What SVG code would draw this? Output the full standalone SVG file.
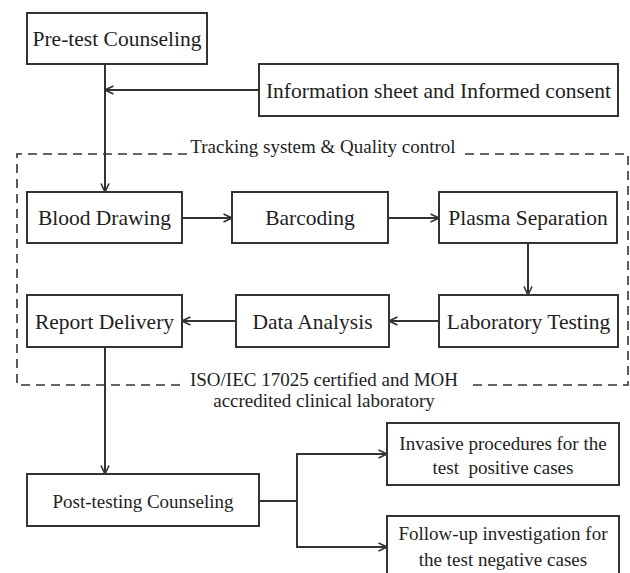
<svg xmlns="http://www.w3.org/2000/svg" width="630" height="573" viewBox="0 0 630 573">
  <style>
    .box { fill: #ffffff; stroke: #333333; stroke-width: 2; }
    .t { font-family: "Liberation Serif", "Times New Roman", serif; font-size: 21.5px; fill: #1e1e1e; text-anchor: middle; }
    .s { font-family: "Liberation Serif", "Times New Roman", serif; font-size: 19px; fill: #1e1e1e; text-anchor: middle; }
    .c { fill: none; stroke: #333333; stroke-width: 2; }
    .d { fill: none; stroke: #333333; stroke-width: 1.6; stroke-dasharray: 9 6; }
  </style>
  <defs>
    <marker id="arr" viewBox="0 0 10 10" refX="9.5" refY="5" markerWidth="10" markerHeight="10" markerUnits="userSpaceOnUse" orient="auto">
      <path d="M1,1 L9.5,5 L1,9" fill="none" stroke="#333333" stroke-width="1.6"/>
    </marker>
  </defs>
  <rect width="630" height="573" fill="#ffffff"/>

  <g id="frame">
    <path class="d" d="M187,154 H17 V385 H183"/>
    <path class="d" d="M465,154 H628 V385 H467"/>
    <text class="s" x="323" y="153">Tracking system &amp; Quality control</text>
    <text class="s" x="324" y="386">ISO/IEC 17025 certified and MOH</text>
    <text class="s" x="324" y="407">accredited clinical laboratory</text>
  </g>

  <g id="connectors">
    <line class="c" x1="105" y1="64" x2="105" y2="192" marker-end="url(#arr)"/>
    <line class="c" x1="259" y1="90" x2="105" y2="90" marker-end="url(#arr)"/>
    <line class="c" x1="182" y1="218" x2="232" y2="218" marker-end="url(#arr)"/>
    <line class="c" x1="388" y1="218" x2="439" y2="218" marker-end="url(#arr)"/>
    <line class="c" x1="528" y1="243" x2="528" y2="295" marker-end="url(#arr)"/>
    <line class="c" x1="439" y1="321" x2="389" y2="321" marker-end="url(#arr)"/>
    <line class="c" x1="236" y1="321" x2="182" y2="321" marker-end="url(#arr)"/>
    <line class="c" x1="105" y1="347" x2="105" y2="474" marker-end="url(#arr)"/>
    <path class="c" d="M259,501 H297 M297,453 V548"/>
    <line class="c" x1="296" y1="454" x2="387" y2="454" marker-end="url(#arr)"/>
    <line class="c" x1="296" y1="547" x2="387" y2="547" marker-end="url(#arr)"/>
  </g>

  <g id="pretest">
    <rect class="box" x="27" y="13" width="180" height="51"/>
    <text class="t" x="117" y="46">Pre-test Counseling</text>
  </g>
  <g id="info">
    <rect class="box" x="259" y="64" width="359" height="52"/>
    <text class="t" x="438.5" y="97.5">Information sheet and Informed consent</text>
  </g>
  <g id="blood">
    <rect class="box" x="27" y="192" width="155" height="51"/>
    <text class="t" x="104.5" y="225">Blood Drawing</text>
  </g>
  <g id="barcoding">
    <rect class="box" x="232" y="192" width="156" height="51"/>
    <text class="t" x="310" y="225">Barcoding</text>
  </g>
  <g id="plasma">
    <rect class="box" x="439" y="192" width="178" height="51"/>
    <text class="t" x="528" y="225">Plasma Separation</text>
  </g>
  <g id="lab">
    <rect class="box" x="439" y="295" width="179" height="52"/>
    <text class="t" x="528.5" y="328.5">Laboratory Testing</text>
  </g>
  <g id="data">
    <rect class="box" x="236" y="295" width="153" height="52"/>
    <text class="t" x="312.5" y="328.5">Data Analysis</text>
  </g>
  <g id="report">
    <rect class="box" x="27" y="295" width="155" height="52"/>
    <text class="t" x="104.5" y="328.5">Report Delivery</text>
  </g>
  <g id="post">
    <rect class="box" x="27" y="474" width="232" height="52"/>
    <text class="s" x="143" y="507.5">Post-testing Counseling</text>
  </g>
  <g id="invasive">
    <rect class="box" x="387" y="423" width="232" height="62"/>
    <text class="s" x="503" y="449.5">Invasive procedures for the</text>
    <text class="s" x="503" y="473.5" style="white-space:pre">test  positive cases</text>
  </g>
  <g id="followup">
    <rect class="box" x="387" y="516" width="232" height="70"/>
    <text class="s" x="503" y="539.5">Follow-up investigation for</text>
    <text class="s" x="503" y="565.5">the test negative cases</text>
  </g>
</svg>
